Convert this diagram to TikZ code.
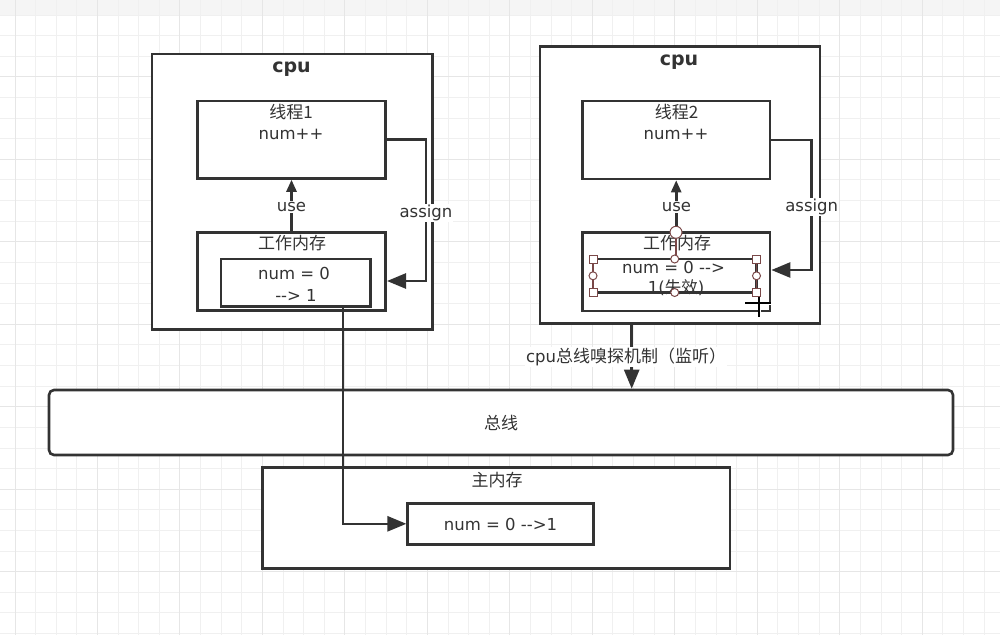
\documentclass[tikz,border=0pt]{standalone}
\usepackage{fontspec}
\setmainfont{DejaVu Sans}
\newfontfamily\cjk{Noto Sans CJK SC}
\usetikzlibrary{arrows.meta}
\definecolor{linec}{HTML}{333333}
\definecolor{gridc}{HTML}{F0F0F0}
\definecolor{gridm}{HTML}{E6E6E6}
\definecolor{selc}{HTML}{7A4848}
\newcommand\arrtxt{-\kern0pt-\kern0pt>}
\begin{document}
\begin{tikzpicture}[x=1pt,y=-1pt,
  box/.style={draw=linec,line width=2.6pt,fill=white,inner sep=0pt},
  lbl/.style={text=linec,font=\fontsize{16.5}{19}\selectfont,inner sep=1pt},
  zh/.style={text=linec,font=\cjk\fontsize{17}{20}\selectfont,inner sep=1pt},
  ttl/.style={text=linec,font=\bfseries\fontsize{19}{22}\selectfont,inner sep=0pt},
  arr/.style={draw=linec,line width=2.6pt,-{Triangle[length=19pt,width=15pt]}},
  arrs/.style={draw=linec,line width=2.6pt,-{Triangle[length=12pt,width=10pt]}},
  hsq/.style={draw=selc,fill=white,line width=1pt,minimum size=8pt,inner sep=0pt},
  hci/.style={circle,draw=selc,fill=white,line width=1pt,minimum size=8pt,inner sep=0pt},
]
\useasboundingbox (0,0) rectangle (1000,635);
% background grid
\fill[white] (0,0) rectangle (1000,635);
\fill[black!4] (0,0) rectangle (1000,15);
\foreach \k in {0,...,48} {\draw[gridc,line width=1pt] ({15+20.62*\k},0) -- ({15+20.62*\k},635);}
\foreach \k in {0,...,30} {\draw[gridc,line width=1pt] (0,{15+20.62*\k}) -- (1000,{15+20.62*\k});}
\foreach \k in {0,4,...,48} {\draw[gridm,line width=1pt] ({15+20.62*\k},0) -- ({15+20.62*\k},635);}
\foreach \k in {3,7,...,30} {\draw[gridm,line width=1pt] (0,{15+20.62*\k}) -- (1000,{15+20.62*\k});}

% left cpu
\node[box,minimum width=280.5pt,minimum height=275.5pt] (cpu1) at (292.2,191.7) {};
\node[ttl] (cpu1t) at (291.5,69) {cpu};
\node[box,minimum width=188.4pt,minimum height=77.5pt] (t1) at (291.5,139.7) {};
\node[zh] (t1a) at (291,112) {线程1};
\node[lbl] (t1b) at (291,134) {num++};
\node[box,minimum width=188.4pt,minimum height=78.4pt] (wm1) at (291.5,271.5) {};
\node[zh] (wm1t) at (292,243.5) {工作内存};
\node[box,minimum width=149.7pt,minimum height=47.7pt] (in1) at (295.8,282.8) {};
\node[lbl] (in1a) at (294,273) {num = 0};
\node[lbl] (in1b) at (296,295) {\arrtxt{} 1};

% right cpu
\node[box,minimum width=280pt,minimum height=276.6pt] (cpu2) at (680,185) {};
\node[ttl] (cpu2t) at (679,62) {cpu};
\node[box,minimum width=187.7pt,minimum height=78pt] (t2) at (676.2,140) {};
\node[zh] (t2a) at (676.5,112) {线程2};
\node[lbl] (t2b) at (676,134) {num++};
\node[box,minimum width=187.7pt,minimum height=78.7pt] (wm2) at (676.2,271.7) {};
\node[zh] (wm2t) at (677,243.5) {工作内存};
\node[box,minimum width=163.5pt,minimum height=33.5pt] (in2) at (674.7,275.8) {};
\node[lbl] (in2a) at (673.5,267.5) {num = 0 \arrtxt};
\node[lbl] (in2b) at (676,288) {1({\cjk 失效})};

% bus
\node[box,rounded corners=5pt,minimum width=904pt,minimum height=65pt] (bus) at (501,422.5) {};
\node[zh] (bust) at (501,423) {总线};

% main memory
\node[box,minimum width=467.7pt,minimum height=101pt] (mm) at (496.2,517.8) {};
\node[zh] (mmt) at (497,480) {主内存};
\node[box,minimum width=185.6pt,minimum height=41pt] (mnum) at (500.5,523.8) {};
\node[lbl] (mnumt) at (500.5,524) {num = 0 \arrtxt1};

% connectors
\coordinate (a1) at (426,281);
\coordinate (a2) at (811.7,270);
\coordinate (s1) at (343,0);
\coordinate (s2) at (631.7,0);
\draw[arrs] (wm1.north) -- (t1.south);
\draw[arrs] (wm2.north) -- (t2.south);
\draw[arr] (t1.east) -| (a1) -- (wm1.east |- a1);
\draw[arr] (t2.east) -| (a2) -- (wm2.east |- a2);
\draw[arr] (in1.south -| s1) |- (mnum.west);
\draw[arr] (cpu2.south -| s2) -- (bus.north -| s2);

% connector labels
\node[lbl,fill=white] (u1) at (291.5,207) {use};
\node[lbl,fill=white] (u2) at (676.5,207) {use};
\node[lbl,fill=white] (as1) at (426,213) {assign};
\node[lbl,fill=white] (as2) at (811.7,207) {assign};
\node[text=linec,fill=white,inner sep=1pt,font=\fontsize{16.5}{19}\selectfont] (sn) at (626,357) {cpu{\cjk\fontsize{17}{20}\selectfont 总线嗅探机制（监听）}};

% selection handles (editor overlay)
\draw[selc,line width=1.2pt] (676,238) -- (676,259);
\draw[selc,line width=1.2pt] (593,259) -- (593,292.5) (756.5,259) -- (756.5,292.5);
\node[circle,draw=selc,fill=white,line width=1pt,minimum size=12pt,inner sep=0pt] (hc0) at (676,232.3) {};
\node[hsq] (h1) at (593,259) {};
\node[hsq] (h2) at (756.5,259) {};
\node[hsq] (h3) at (593,292.5) {};
\node[hsq] (h4) at (756.5,292.5) {};
\node[hci] (h5) at (674.7,259) {};
\node[hci] (h6) at (674.7,292.5) {};
\node[hci] (h7) at (593,275.8) {};
\node[hci] (h8) at (756.5,275.8) {};
% cursor
\draw[white,line width=3.5pt] (759.3,297) -- (759.3,317) (745,303.3) -- (771,303.3);
\draw[black,line width=1.8pt] (759.3,297) -- (759.3,317) (745,303.3) -- (771,303.3);
\end{tikzpicture}
\end{document}
